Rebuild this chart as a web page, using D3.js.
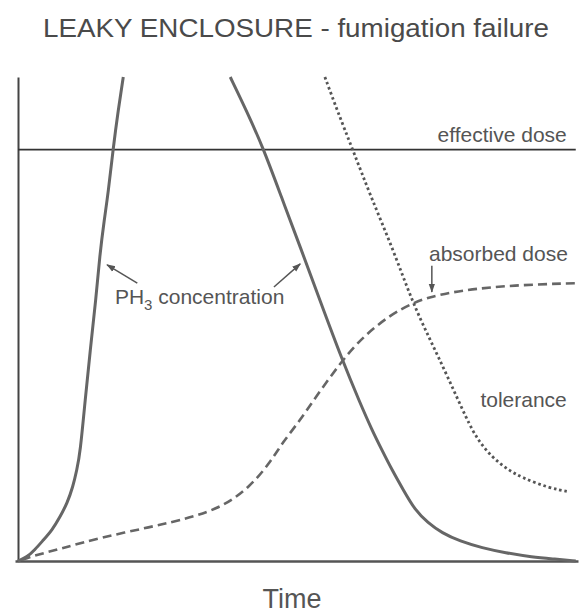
<!DOCTYPE html>
<html>
<head>
<meta charset="utf-8">
<script src="https://cdn.jsdelivr.net/npm/d3@7/dist/d3.min.js"></script>
<style>
  html, body { margin: 0; padding: 0; background: #fff; }
  svg { display: block; }
  text { font-family: "Liberation Sans", Arial, Helvetica, sans-serif; fill: #555; }
</style>
</head>
<body>
<div id="chart"></div>
<script>
// Time axis and relative level axis both run 0..100 (arbitrary units).
// PH3 concentration: rapid rise (leaves the top of the plot) ...
const ph3RiseTime  = [0, 1.6, 3.0, 4.5, 6.1, 7.5, 8.8, 9.8, 10.5, 11.1, 12.0, 12.9, 13.9, 14.6, 15.4, 16.1, 17.0, 17.9, 18.8];
const ph3RiseLevel = [0, 0.8, 2.3, 4.3, 6.4, 9.1, 12.0, 15.3, 18.8, 22.3, 33.3, 43.6, 53.9, 63.2, 70.5, 76.0, 85.3, 93.2, 100];
// ... and decay as gas leaks out of the enclosure
const ph3FallTime  = [37.9, 40.9, 43.8, 47.1, 50.4, 53.9, 57.9, 61.1, 63.2, 65.0, 66.8, 68.8, 70.9, 73.2, 75.7, 78.9, 82.9, 87.0, 91.8, 95.9, 99.6];
const ph3FallLevel = [100, 92.8, 85.3, 75.0, 64.9, 53.9, 41.5, 32.6, 27.1, 22.9, 18.8, 14.7, 10.5, 7.9, 5.8, 4.1, 2.7, 1.7, 0.8, 0.4, 0];

// Dose absorbed by the insects
const absorbedTime  = [0.7, 2.5, 7.5, 14.6, 23.6, 30.7, 36.6, 41.4, 45.0, 47.3, 50.4, 52.7, 57.9, 61.6, 66.4, 70.5, 73.6, 79.5, 88.4, 99.5];
const absorbedLevel = [0.2, 1.0, 2.5, 4.8, 7.0, 8.9, 11.2, 15.3, 20.3, 24.6, 29.1, 33.1, 41.5, 46.3, 50.8, 53.3, 54.6, 56.0, 57.0, 57.4];

// Tolerance developed by the insects
const toleranceTime  = [54.8, 57.1, 59.8, 62.9, 67.0, 70.5, 73.6, 76.6, 80.2, 82.1, 84.6, 87.3, 90.0, 94.8, 98.4];
const toleranceLevel = [100, 92.8, 84.9, 75.6, 64.3, 53.3, 45.7, 38.4, 29.1, 25.0, 21.5, 19.0, 17.2, 15.1, 14.3];

// Dose needed for a kill
const effectiveDose = 85;

const titleText = "LEAKY ENCLOSURE - fumigation failure";
const xAxisLabel = "Time";
const seriesLabels = ["effective dose", "absorbed dose", "tolerance", "PH", "3", " concentration"];

const W = 582, H = 613;
const svg = d3.select("#chart").append("svg").attr("width", W).attr("height", H);

const x = d3.scaleLinear().domain([0, 100]).range([18, 578]);
const y = d3.scaleLinear().domain([0, 100]).range([561, 77]);

const zip = (ts, vs) => ts.map((t, i) => [t, vs[i]]);
const line = d3.line().x(d => x(d[0])).y(d => y(d[1])).curve(d3.curveBasis);

// Title
svg.append("text")
  .attr("x", 43).attr("y", 37)
  .attr("textLength", 506).attr("lengthAdjust", "spacingAndGlyphs")
  .style("font-size", "25px").style("fill", "#4a4a4a")
  .text(titleText);

// Axes (lines only, no ticks)
svg.append("g").attr("transform", `translate(${x(0)},0)`)
  .call(d3.axisLeft(y).ticks(0).tickSize(0).tickSizeOuter(0))
  .call(g => g.select(".domain").attr("stroke", "#444").attr("stroke-width", 2));
svg.append("g").attr("transform", `translate(0,${y(0)})`)
  .call(d3.axisBottom(d3.scaleLinear().domain([0, 100]).range([15, 578])).ticks(0).tickSize(0).tickSizeOuter(0))
  .call(g => g.select(".domain").attr("stroke", "#555").attr("stroke-width", 2.5));

svg.append("text")
  .attr("x", 292).attr("y", 608).attr("text-anchor", "middle")
  .style("font-size", "27px").style("fill", "#555")
  .text(xAxisLabel);

// Effective dose threshold
svg.append("line")
  .attr("x1", x(0)).attr("x2", x(99.6))
  .attr("y1", y(effectiveDose)).attr("y2", y(effectiveDose))
  .attr("stroke", "#333").attr("stroke-width", 1.6);

// Curves
svg.append("path").datum(zip(ph3RiseTime, ph3RiseLevel))
  .attr("d", line).attr("fill", "none").attr("stroke", "#666").attr("stroke-width", 3);
svg.append("path").datum(zip(ph3FallTime, ph3FallLevel))
  .attr("d", line).attr("fill", "none").attr("stroke", "#666").attr("stroke-width", 3);
svg.append("path").datum(zip(absorbedTime, absorbedLevel))
  .attr("d", line).attr("fill", "none").attr("stroke", "#666").attr("stroke-width", 2.6)
  .attr("stroke-dasharray", "9,5");
svg.append("path").datum(zip(toleranceTime, toleranceLevel))
  .attr("d", line).attr("fill", "none").attr("stroke", "#555").attr("stroke-width", 2.8)
  .attr("stroke-dasharray", "2.6,2.8");

// Arrow marker
svg.append("defs").append("marker")
  .attr("id", "head").attr("viewBox", "0 0 10 10")
  .attr("refX", 9).attr("refY", 5)
  .attr("markerWidth", 9).attr("markerHeight", 9)
  .attr("markerUnits", "userSpaceOnUse")
  .attr("orient", "auto")
  .append("path").attr("d", "M0,1.5 L10,5 L0,8.5 Z").attr("fill", "#555");

const arrows = [
  [[21.3, 57.4], [15.9, 61.2]],
  [[45.7, 56.6], [50.4, 61.4]],
  [[73.9, 61.0], [73.9, 55.6]]
];
svg.selectAll(".arrow").data(arrows).join("line")
  .attr("class", "arrow")
  .attr("x1", d => x(d[0][0])).attr("y1", d => y(d[0][1]))
  .attr("x2", d => x(d[1][0])).attr("y2", d => y(d[1][1]))
  .attr("stroke", "#555").attr("stroke-width", 1.5)
  .attr("marker-end", "url(#head)");

// Series labels
const lab = (t, v, s) => svg.append("text")
  .attr("x", x(t)).attr("y", y(v)).attr("text-anchor", "end")
  .style("font-size", "21px").text(s);
lab(98.0, 86.6, seriesLabels[0]);
lab(98.2, 62.0, seriesLabels[1]);
lab(98.0, 31.8, seriesLabels[2]);

const ph = svg.append("text")
  .attr("x", x(17.3)).attr("y", y(53.1))
  .style("font-size", "21px");
ph.append("tspan").text(seriesLabels[3]);
ph.append("tspan").attr("dy", 6).style("font-size", "15px").text(seriesLabels[4]);
ph.append("tspan").attr("dy", -6).text(seriesLabels[5]);
</script>
</body>
</html>
